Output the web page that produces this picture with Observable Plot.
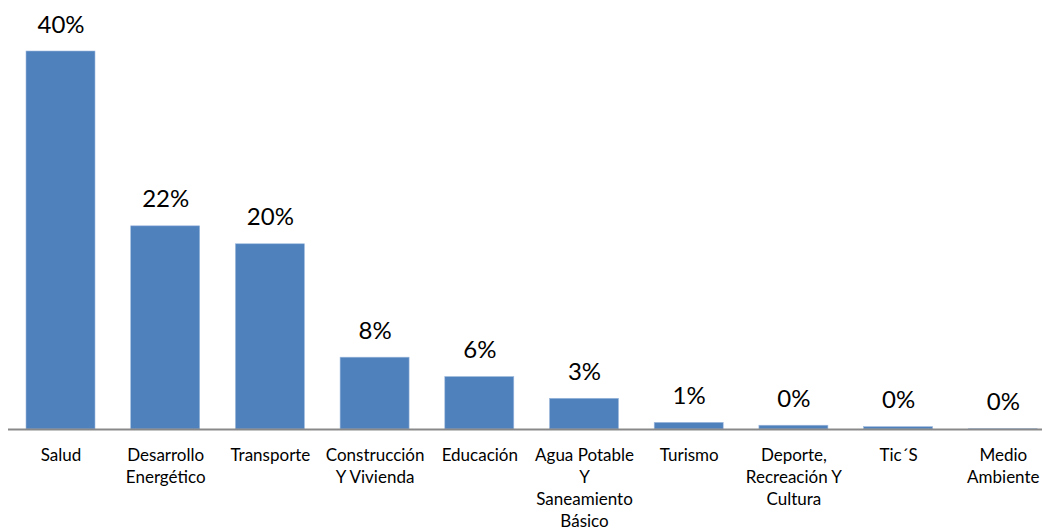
<!DOCTYPE html>
<html>
<head>
<meta charset="utf-8">
<script src="https://cdn.jsdelivr.net/npm/d3@7"></script>
<script src="https://cdn.jsdelivr.net/npm/@observablehq/plot@0.6"></script>
<style>
  html, body { margin: 0; padding: 0; background: #fff; }
  #chart svg { display: block; }
</style>
</head>
<body>
<div id="chart"></div>
<script>
const categories = [
  "Salud",
  "Desarrollo\nEnergético",
  "Transporte",
  "Construcción\nY Vivienda",
  "Educación",
  "Agua Potable\nY\nSaneamiento\nBásico",
  "Turismo",
  "Deporte,\nRecreación Y\nCultura",
  "Tic´S",
  "Medio\nAmbiente"
];
const values = [40, 21.5, 19.6, 7.6, 5.55, 3.25, 0.7, 0.4, 0.25, 0.03];

const data = categories.map((c, i) => ({ category: c, value: values[i] }));

const chart = Plot.plot({
  width: 1042,
  height: 531,
  marginTop: 51,
  marginBottom: 102,
  marginLeft: 8,
  marginRight: 0,
  style: { fontFamily: "Lato, 'Open Sans', sans-serif", background: "#fff" },
  x: { domain: categories, range: [26, 1037.3], paddingInner: 0.341, paddingOuter: 0, round: false, axis: null },
  y: { domain: [0, 40], axis: null },
  marks: [
    Plot.barY(data, { x: "category", y: "value", fill: "#4F81BD", stroke: "#9DB9DD", strokeWidth: 0.6 }),
    Plot.ruleY([0], { stroke: "#898989", strokeWidth: 2 }),
    Plot.text(data, {
      x: "category", y: "value",
      text: d => Math.round(d.value) + "%",
      fontSize: 24, fill: "#000", lineAnchor: "bottom", dy: -19
    }),
    Plot.text(data, {
      x: "category", y: 0,
      text: "category",
      fontSize: 17, fill: "#000", lineAnchor: "top", dy: 16, lineHeight: 1.3
    })
  ]
});
document.getElementById("chart").appendChild(chart);
</script>
</body>
</html>
